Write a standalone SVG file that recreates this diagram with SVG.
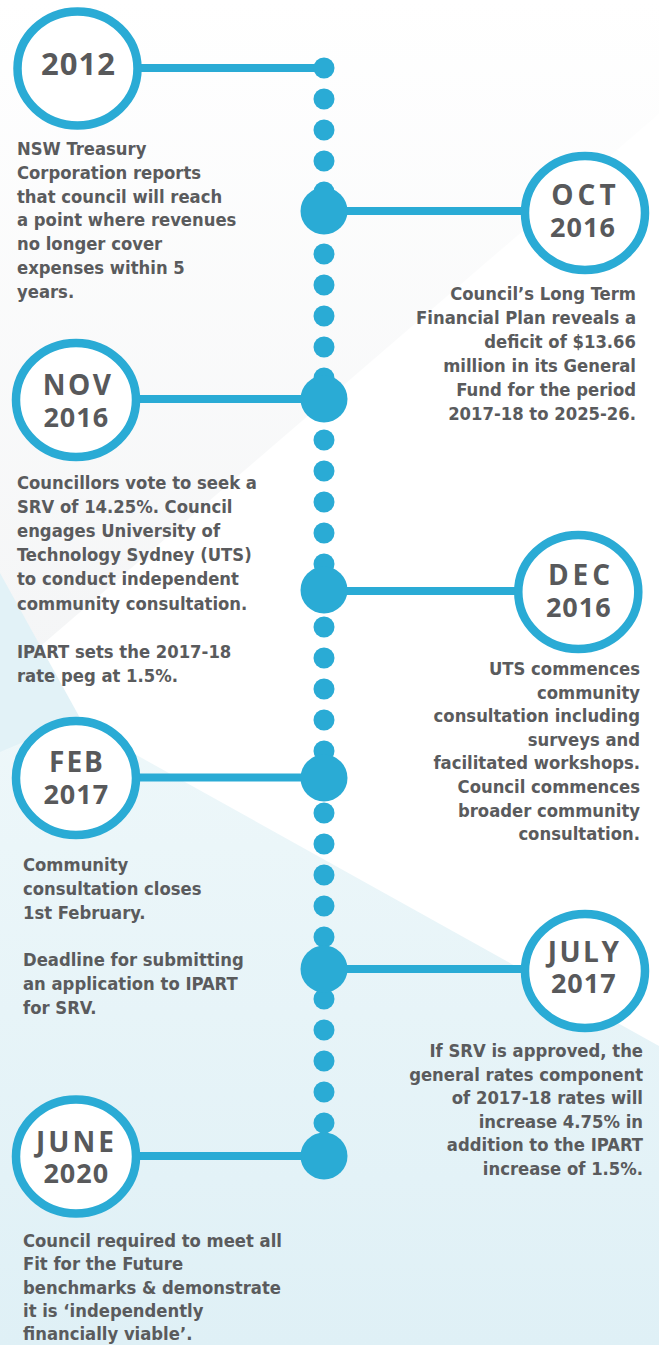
<svg xmlns="http://www.w3.org/2000/svg" width="659" height="1345" viewBox="0 0 659 1345">
  <defs>
    <linearGradient id="gGrey" x1="0" y1="0" x2="0" y2="1">
      <stop offset="0" stop-color="#ffffff"/>
      <stop offset="1" stop-color="#f4f5f6"/>
    </linearGradient>
    <linearGradient id="gCyan" x1="0" y1="0" x2="0" y2="1">
      <stop offset="0" stop-color="#eff8fa"/>
      <stop offset="1" stop-color="#dff0f6"/>
    </linearGradient>
    <style>
      .ring { fill: #ffffff; stroke: #2aabd5; stroke-width: 8.5; }
      .link { stroke: #2aabd5; stroke-width: 8; fill: none; }
      .dot { fill: #2aabd5; }
      .title { font-family: "Open Sans", "Liberation Sans", sans-serif; font-weight: 700; font-size: 28px; fill: #58595b; text-anchor: middle; }
      .yr { font-size: 27px; letter-spacing: 1px; }
      .body { font-family: "DejaVu Sans Condensed", "DejaVu Sans", sans-serif; font-stretch: condensed; font-weight: bold; font-size: 18.3px; fill: #5a5b5d; }
      .r { text-anchor: end; }
    </style>
  </defs>

  <g id="background">
    <rect x="0" y="0" width="659" height="1345" fill="#ffffff"/>
    <polygon points="0,0 791,0 0,681" fill="url(#gGrey)"/>
    <polygon points="0,679 659,1046 659,1345 0,1345" fill="url(#gCyan)"/>
    <polygon points="0,573 80,718 0,752" fill="#e2f2f7"/>
  </g>

  <g id="connectors">
    <line class="link" x1="78" y1="68" x2="324" y2="68"/>
    <line class="link" x1="324" y1="211" x2="585" y2="211"/>
    <line class="link" x1="76" y1="399" x2="324" y2="399"/>
    <line class="link" x1="324" y1="591" x2="578" y2="591"/>
    <line class="link" x1="76" y1="777.5" x2="324" y2="777.5"/>
    <line class="link" x1="324" y1="969" x2="585" y2="969"/>
    <line class="link" x1="76" y1="1156" x2="324" y2="1156"/>
    <g class="dot">
      <circle cx="324" cy="68" r="10.5"/>
      <circle cx="324" cy="99" r="10.5"/>
      <circle cx="324" cy="130" r="10.5"/>
      <circle cx="324" cy="161" r="10.5"/>
      <circle cx="324" cy="192" r="10.5"/>
      <circle cx="324" cy="223" r="10.5"/>
      <circle cx="324" cy="254" r="10.5"/>
      <circle cx="324" cy="285" r="10.5"/>
      <circle cx="324" cy="316" r="10.5"/>
      <circle cx="324" cy="347" r="10.5"/>
      <circle cx="324" cy="378" r="10.5"/>
      <circle cx="324" cy="409" r="10.5"/>
      <circle cx="324" cy="440" r="10.5"/>
      <circle cx="324" cy="471" r="10.5"/>
      <circle cx="324" cy="502" r="10.5"/>
      <circle cx="324" cy="533" r="10.5"/>
      <circle cx="324" cy="564" r="10.5"/>
      <circle cx="324" cy="595" r="10.5"/>
      <circle cx="324" cy="627" r="10.5"/>
      <circle cx="324" cy="658" r="10.5"/>
      <circle cx="324" cy="689" r="10.5"/>
      <circle cx="324" cy="720" r="10.5"/>
      <circle cx="324" cy="751" r="10.5"/>
      <circle cx="324" cy="782" r="10.5"/>
      <circle cx="324" cy="813" r="10.5"/>
      <circle cx="324" cy="844" r="10.5"/>
      <circle cx="324" cy="875" r="10.5"/>
      <circle cx="324" cy="906" r="10.5"/>
      <circle cx="324" cy="937" r="10.5"/>
      <circle cx="324" cy="968" r="10.5"/>
      <circle cx="324" cy="999" r="10.5"/>
      <circle cx="324" cy="1030" r="10.5"/>
      <circle cx="324" cy="1061" r="10.5"/>
      <circle cx="324" cy="1092" r="10.5"/>
      <circle cx="324" cy="1123" r="10.5"/>
      <circle cx="324" cy="1154" r="10.5"/>
      <circle cx="324" cy="211" r="23.5"/>
      <circle cx="324" cy="399" r="23.5"/>
      <circle cx="324" cy="590" r="23.5"/>
      <circle cx="324" cy="778" r="23.5"/>
      <circle cx="324" cy="969" r="23.5"/>
      <circle cx="324" cy="1156" r="23.5"/>
    </g>
  </g>

  <g id="node-2012">
    <ellipse class="ring" cx="77.5" cy="68.5" rx="60" ry="57"/>
    <text class="title" x="78.5" y="75" style="font-size:31px;letter-spacing:1px">2012</text>
    <text class="body" x="17" y="155">NSW Treasury</text>
    <text class="body" x="17" y="178.8">Corporation reports</text>
    <text class="body" x="17" y="202.6">that council will reach</text>
    <text class="body" x="17" y="226.4">a point where revenues</text>
    <text class="body" x="17" y="250.2">no longer cover</text>
    <text class="body" x="17" y="274">expenses within 5</text>
    <text class="body" x="17" y="297.8">years.</text>
  </g>

  <g id="node-oct-2016">
    <ellipse class="ring" cx="585" cy="213" rx="60" ry="57"/>
    <text class="title"><tspan x="585.5" y="205" style="letter-spacing:4px">OCT</tspan><tspan class="yr" x="583" y="237">2016</tspan></text>
    <text class="body r" x="636" y="300">Council’s Long Term</text>
    <text class="body r" x="636" y="324">Financial Plan reveals a</text>
    <text class="body r" x="636" y="348">deficit of $13.66</text>
    <text class="body r" x="636" y="372">million in its General</text>
    <text class="body r" x="636" y="396">Fund for the period</text>
    <text class="body r" x="636" y="420">2017-18 to 2025-26.</text>
  </g>

  <g id="node-nov-2016">
    <ellipse class="ring" cx="76" cy="400" rx="60" ry="57"/>
    <text class="title"><tspan x="78" y="395" style="letter-spacing:2.5px">NOV</tspan><tspan class="yr" x="76.3" y="426.7">2016</tspan></text>
    <text class="body" x="17" y="489">Councillors vote to seek a</text>
    <text class="body" x="17" y="513.1">SRV of 14.25%. Council</text>
    <text class="body" x="17" y="537.2">engages University of</text>
    <text class="body" x="17" y="561.3">Technology Sydney (UTS)</text>
    <text class="body" x="17" y="585.4">to conduct independent</text>
    <text class="body" x="17" y="609.5">community consultation.</text>
    <text class="body" x="17" y="657.7">IPART sets the 2017-18</text>
    <text class="body" x="17" y="681.8">rate peg at 1.5%.</text>
  </g>

  <g id="node-dec-2016">
    <ellipse class="ring" cx="578.3" cy="592" rx="60" ry="57"/>
    <text class="title"><tspan x="581" y="585" style="letter-spacing:4px">DEC</tspan><tspan class="yr" x="578.8" y="616.7">2016</tspan></text>
    <text class="body r" x="640" y="675">UTS commences</text>
    <text class="body r" x="640" y="698.6">community</text>
    <text class="body r" x="640" y="722.2">consultation including</text>
    <text class="body r" x="640" y="745.8">surveys and</text>
    <text class="body r" x="640" y="769.4">facilitated workshops.</text>
    <text class="body r" x="640" y="793">Council commences</text>
    <text class="body r" x="640" y="816.6">broader community</text>
    <text class="body r" x="640" y="840.2">consultation.</text>
  </g>

  <g id="node-feb-2017">
    <ellipse class="ring" cx="76" cy="778" rx="60" ry="57"/>
    <text class="title"><tspan x="77" y="772.3" style="letter-spacing:2px">FEB</tspan><tspan class="yr" x="76.3" y="804">2017</tspan></text>
    <text class="body" x="23" y="871">Community</text>
    <text class="body" x="23" y="894.8">consultation closes</text>
    <text class="body" x="23" y="918.6">1st February.</text>
    <text class="body" x="23" y="966.2">Deadline for submitting</text>
    <text class="body" x="23" y="990">an application to IPART</text>
    <text class="body" x="23" y="1013.8">for SRV.</text>
  </g>

  <g id="node-july-2017">
    <ellipse class="ring" cx="585" cy="971" rx="60" ry="57"/>
    <text class="title"><tspan x="584.5" y="961.7" style="letter-spacing:2.5px">JULY</tspan><tspan class="yr" x="583.8" y="993.3">2017</tspan></text>
    <text class="body r" x="643" y="1057">If SRV is approved, the</text>
    <text class="body r" x="643" y="1080.6">general rates component</text>
    <text class="body r" x="643" y="1104.2">of 2017-18 rates will</text>
    <text class="body r" x="643" y="1127.8">increase 4.75% in</text>
    <text class="body r" x="643" y="1151.4">addition to the IPART</text>
    <text class="body r" x="643" y="1175">increase of 1.5%.</text>
  </g>

  <g id="node-june-2020">
    <ellipse class="ring" cx="76" cy="1156.5" rx="60" ry="57"/>
    <text class="title"><tspan x="76.5" y="1151.7" style="letter-spacing:3px">JUNE</tspan><tspan class="yr" x="76.3" y="1182.7">2020</tspan></text>
    <text class="body" x="23" y="1247">Council required to meet all</text>
    <text class="body" x="23" y="1270.3">Fit for the Future</text>
    <text class="body" x="23" y="1293.6">benchmarks &amp; demonstrate</text>
    <text class="body" x="23" y="1316.9">it is ‘independently</text>
    <text class="body" x="23" y="1340.2">financially viable’.</text>
  </g>
</svg>
